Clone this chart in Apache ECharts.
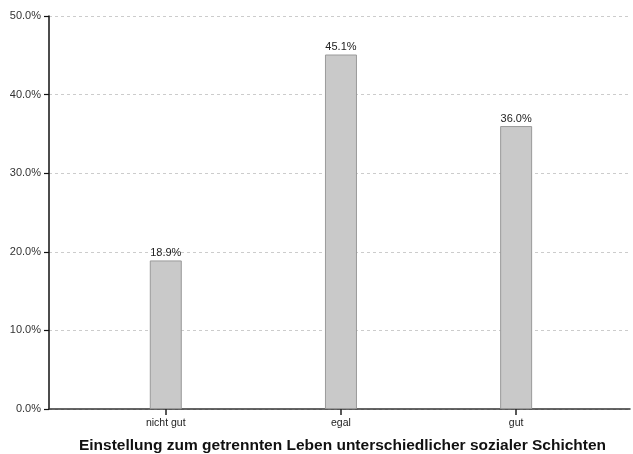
<!DOCTYPE html>
<html>
<head>
    <meta http-equiv="Content-Type" content="text/html; charset=utf-8" />
    <title>Einstellung</title>
    <style type="text/css">
        * { margin: 0; padding: 0 }
        html, body { width: 100%; height: 100%; background: #fff; }
        #chart { width: 633px; height: 454px; }
    </style>
</head>
<body>
    <div id="chart"></div>
    <script src="https://cdn.jsdelivr.net/npm/echarts@6/dist/echarts.min.js"></script>
    <script>
        const categories = ['nicht gut', 'egal', 'gut'];
        const values = [18.9, 45.1, 36.0];
        const yTicks = [0, 10, 20, 30, 40, 50];

        const positions = categories.map((c, i) => i + 1);
        const font = 'Liberation Sans, Arial, sans-serif';

        const myChart = echarts.init(document.querySelector('#chart'), null, { renderer: 'canvas' });
        const option = {
            backgroundColor: '#fff',
            animation: false,
            grid: { left: 49, right: 3, top: 16, bottom: 45, containLabel: false, outerBoundsMode: 'none' },
            xAxis: {
                type: 'value',
                min: 1 / 3,
                max: 3.65,
                name: 'Einstellung zum getrennten Leben unterschiedlicher sozialer Schichten',
                nameLocation: 'middle',
                nameGap: 29,
                nameTextStyle: { fontFamily: font, fontSize: 15.5, fontWeight: 'bold', color: '#111', padding: [0, 0, 0, 6] },
                axisLine: { show: true, lineStyle: { color: '#333', width: 1.5 } },
                axisTick: { show: true, customValues: positions, length: 6, lineStyle: { color: '#222', width: 1.5 } },
                axisLabel: {
                    customValues: positions,
                    margin: 9,
                    fontFamily: font, fontSize: 10.5, color: '#222',
                    formatter: v => categories[Math.round(v) - 1]
                },
                splitLine: { show: false }
            },
            yAxis: {
                type: 'value',
                min: yTicks[0],
                max: yTicks[yTicks.length - 1],
                interval: 10,
                axisLine: { show: true, lineStyle: { color: '#111', width: 1.5 } },
                axisTick: { show: true, length: 5, lineStyle: { color: '#111', width: 1.2 } },
                axisLabel: {
                    margin: 8,
                    fontFamily: font, fontSize: 11, color: '#333',
                    formatter: v => v.toFixed(1) + '%'
                },
                splitLine: { show: true, lineStyle: { color: '#ccc', type: [3, 3], width: 1 } }
            },
            series: [{
                type: 'bar',
                barWidth: 32,
                data: positions.map((p, i) => [p, values[i]]),
                itemStyle: { color: '#c9c9c9', borderColor: '#9a9a9a', borderWidth: 1 },
                label: {
                    show: true,
                    position: 'top',
                    distance: 2,
                    fontFamily: font, fontSize: 11, color: '#222',
                    formatter: p => p.value[1].toFixed(1) + '%'
                }
            }]
        };
        myChart.setOption(option);
    </script>
</body>
</html>
